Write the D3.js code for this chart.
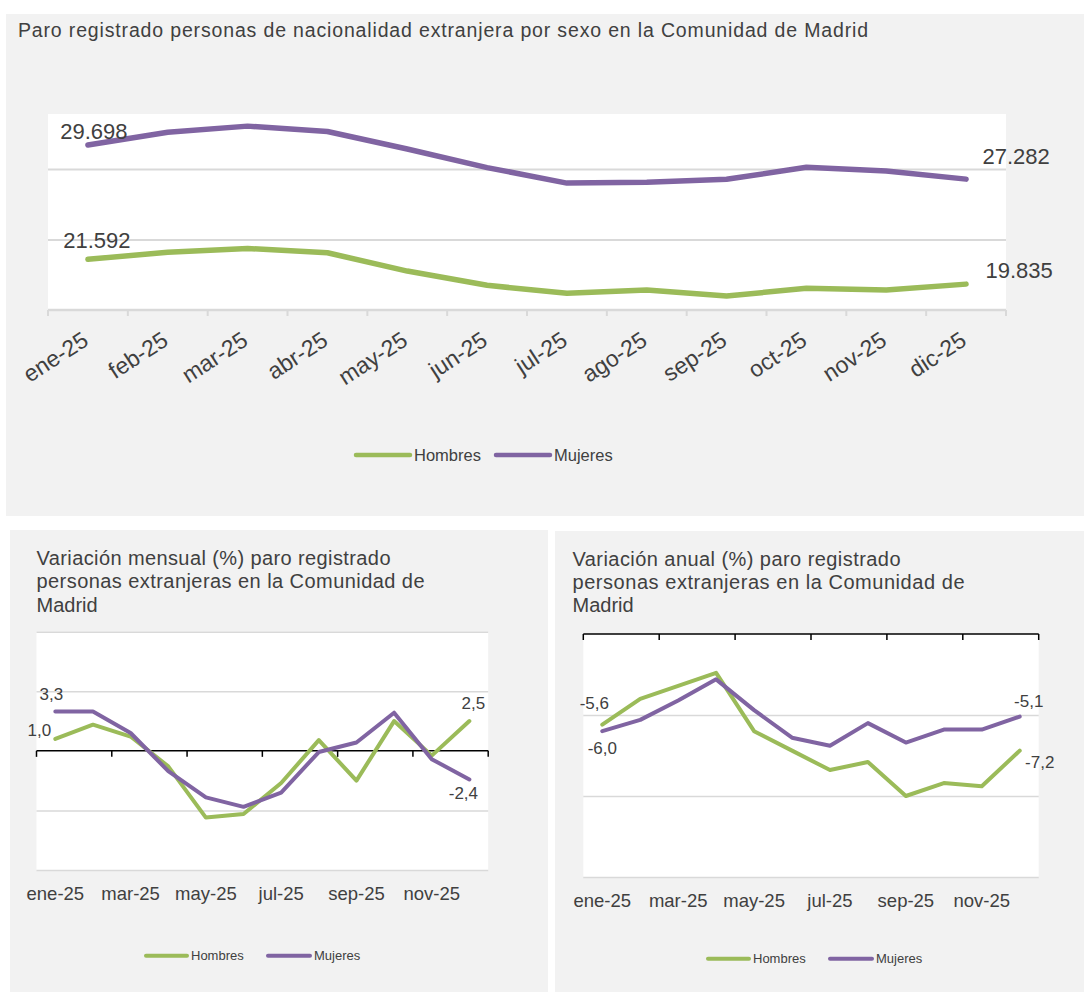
<!doctype html>
<html lang="es">
<head>
<meta charset="utf-8">
<title>Paro registrado extranjeros - Comunidad de Madrid</title>
<script src="https://d3js.org/d3.v7.min.js"></script>
<style>
  body { margin: 0; background: #fff; }
  svg { display: block; font-family: "Liberation Sans", Arial, sans-serif; }
</style>
</head>
<body>
<svg id="chart" width="1084" height="992"></svg>
<script>
// datos
const meses = ["ene-25", "feb-25", "mar-25", "abr-25", "may-25", "jun-25",
               "jul-25", "ago-25", "sep-25", "oct-25", "nov-25", "dic-25"];
const paroHombres = [21592, 22100, 22360, 22060, 20760, 19750, 19180, 19420, 18990, 19540, 19420, 19835];
const paroMujeres = [29698, 30600, 31040, 30660, 29420, 28100, 27000, 27060, 27270, 28120, 27860, 27282];
const mensualHombres = [1.0, 2.2, 1.2, -1.3, -5.6, -5.3, -2.7, 0.9, -2.5, 2.5, -0.4, 2.5];
const mensualMujeres = [3.3, 3.3, 1.5, -1.7, -3.9, -4.7, -3.5, -0.1, 0.7, 3.2, -0.7, -2.4];
const anualHombres = [-5.6, -4.0, -3.2, -2.4, -6.0, -7.2, -8.4, -7.9, -10.0, -9.2, -9.4, -7.2];
const anualMujeres = [-6.0, -5.3, -4.1, -2.8, -4.7, -6.4, -6.9, -5.5, -6.7, -5.9, -5.9, -5.1];
const series = ["Hombres", "Mujeres"];

const verde = "#9bbb59", morado = "#8064a2", gris = "#404040", rejilla = "#d9d9d9";
const es = d3.formatLocale({decimal: ",", thousands: ".", grouping: [3], currency: ["", " €"], minus: "-"});
const fmtMiles = es.format(",.0f"), fmtDec = es.format(".1f");

const svg = d3.select("#chart");

// fondos de los tres paneles
svg.append("rect").attr("x", 6).attr("y", 14).attr("width", 1078).attr("height", 502).attr("fill", "#f2f2f2");
svg.append("rect").attr("x", 10).attr("y", 530).attr("width", 538).attr("height", 462).attr("fill", "#f2f2f2");
svg.append("rect").attr("x", 555).attr("y", 531).attr("width", 529).attr("height", 461).attr("fill", "#f2f2f2");

function leyenda(g, items, y, fs, sw) {
  items.forEach(it => {
    g.append("line").attr("x1", it.x1).attr("x2", it.x2).attr("y1", y).attr("y2", y)
      .attr("stroke", it.color).attr("stroke-width", sw).attr("stroke-linecap", "round");
    g.append("text").attr("x", it.x2 + 4).attr("y", y + fs * 0.36).attr("font-size", fs)
      .attr("fill", gris).text(it.name);
  });
}

// ---------- grafico superior: paro registrado ----------
(function () {
  const g = svg.append("g");
  const left = 48, right = 1006, top = 114, bottom = 310;
  const x = d3.scaleBand().domain(meses).range([left, right]);
  const y = d3.scaleLinear().domain([18000, 31900]).range([bottom, top]);
  const cx = i => x(meses[i]) + x.bandwidth() / 2;

  g.append("text").attr("x", 18).attr("y", 37).attr("font-size", 19.5).attr("fill", gris)
    .attr("textLength", 850).attr("lengthAdjust", "spacing")
    .text("Paro registrado personas de nacionalidad extranjera por sexo en la Comunidad de Madrid");

  g.append("rect").attr("x", left).attr("y", top).attr("width", right - left).attr("height", bottom - top).attr("fill", "#fff");

  g.append("g").attr("transform", `translate(${left},0)`)
    .call(d3.axisLeft(y).tickValues([23000, 28000]).tickSize(-(right - left)).tickFormat(""))
    .call(a => a.select(".domain").remove())
    .call(a => a.selectAll("line").attr("stroke", rejilla).attr("stroke-width", 2));

  g.append("line").attr("x1", left).attr("x2", right).attr("y1", bottom).attr("y2", bottom)
    .attr("stroke", rejilla).attr("stroke-width", 2.5);
  g.selectAll(".tk").data(d3.range(meses.length + 1)).enter().append("line")
    .attr("x1", i => left + i * x.step()).attr("x2", i => left + i * x.step())
    .attr("y1", bottom).attr("y2", bottom + 6).attr("stroke", rejilla).attr("stroke-width", 2);

  const ax = g.append("g").attr("transform", `translate(0,${bottom})`)
    .call(d3.axisBottom(x).tickSize(0).tickSizeOuter(0));
  ax.select(".domain").remove();
  ax.attr("font-family", null).attr("font-size", null);
  ax.selectAll("text").attr("font-size", 23).attr("fill", gris).attr("text-anchor", "end")
    .attr("y", 0).attr("dy", 0).attr("transform", "translate(2,34) rotate(-33)");

  const linea = d3.line().x((d, i) => cx(i)).y(d => y(d));
  [[paroHombres, verde], [paroMujeres, morado]].forEach(([s, c]) => {
    g.append("path").attr("d", linea(s)).attr("fill", "none").attr("stroke", c)
      .attr("stroke-width", 5.5).attr("stroke-linejoin", "round").attr("stroke-linecap", "round");
  });

  const n = meses.length - 1;
  const etiquetas = [
    {s: paroMujeres, i: 0, dx: 6, dy: -6},
    {s: paroHombres, i: 0, dx: 9, dy: -11},
    {s: paroMujeres, i: n, dx: 50, dy: -15},
    {s: paroHombres, i: n, dx: 53, dy: -6}
  ];
  etiquetas.forEach(e => {
    g.append("text").attr("x", cx(e.i) + e.dx).attr("y", y(e.s[e.i]) + e.dy)
      .attr("text-anchor", "middle").attr("font-size", 22).attr("fill", gris).text(fmtMiles(e.s[e.i]));
  });

  leyenda(g, [{name: series[0], color: verde, x1: 356, x2: 410},
              {name: series[1], color: morado, x1: 496, x2: 550}], 455, 16.5, 4.5);
})();

// ---------- graficos inferiores ----------
function graficoVariacion(o) {
  const g = svg.append("g");
  const x = d3.scaleBand().domain(meses).range([o.left, o.right]);
  const y = d3.scaleLinear().domain(o.domain).range([o.bottom, o.top]);
  const cx = i => x(meses[i]) + x.bandwidth() / 2;

  o.titulo.forEach((t, k) => {
    const tx = g.append("text").attr("x", o.left + o.titleDx).attr("y", o.titleY[k])
      .attr("font-size", 20).attr("fill", gris).text(t);
    if (o.titleLen[k]) tx.attr("textLength", o.titleLen[k]).attr("lengthAdjust", "spacing");
  });

  g.append("rect").attr("x", o.left).attr("y", o.top).attr("width", o.right - o.left)
    .attr("height", o.bottom - o.top).attr("fill", "#fff");

  g.append("g").attr("transform", `translate(${o.left},0)`)
    .call(d3.axisLeft(y).tickValues(o.grid).tickSize(-(o.right - o.left)).tickFormat(""))
    .call(a => a.select(".domain").remove())
    .call(a => a.selectAll("line").attr("stroke", rejilla).attr("stroke-width", 1.5));

  // eje en el cero con marcas cada dos meses
  const y0 = y(0);
  g.append("line").attr("x1", o.left).attr("x2", o.right).attr("y1", y0).attr("y2", y0)
    .attr("stroke", "#000").attr("stroke-width", 1.5);
  g.selectAll(".tk").data(d3.range(0, meses.length + 1, 2)).enter().append("line")
    .attr("x1", i => o.left + i * x.step()).attr("x2", i => o.left + i * x.step())
    .attr("y1", y0).attr("y2", y0 + 6).attr("stroke", "#000").attr("stroke-width", 1.5);

  const ax = g.append("g").attr("transform", `translate(0,${o.labelY})`)
    .call(d3.axisBottom(x).tickValues(meses.filter((d, i) => i % 2 === 0)).tickSize(0).tickSizeOuter(0));
  ax.select(".domain").remove();
  ax.attr("font-family", null).attr("font-size", null);
  ax.selectAll("text").attr("font-size", 18.5).attr("fill", gris).attr("y", 0).attr("dy", 0);

  const linea = d3.line().x((d, i) => cx(i)).y(d => y(d));
  [[o.hombres, verde], [o.mujeres, morado]].forEach(([s, c]) => {
    g.append("path").attr("d", linea(s)).attr("fill", "none").attr("stroke", c)
      .attr("stroke-width", 4).attr("stroke-linejoin", "round").attr("stroke-linecap", "round");
  });

  o.etiquetas.forEach(e => {
    const s = e.serie === 0 ? o.hombres : o.mujeres;
    g.append("text").attr("x", cx(e.i) + e.dx).attr("y", y(s[e.i]) + e.dy)
      .attr("text-anchor", "middle").attr("font-size", 17).attr("fill", gris).text(fmtDec(s[e.i]));
  });

  leyenda(g, [{name: series[0], color: verde, x1: o.leg[0], x2: o.leg[1]},
              {name: series[1], color: morado, x1: o.leg[2], x2: o.leg[3]}], o.legY, 13, 4);
}

graficoVariacion({
  left: 36.5, right: 488.2, top: 631.7, bottom: 870, domain: [-10, 10], grid: [10, 5, -5, -10],
  titulo: ["Variación mensual (%) paro registrado", "personas extranjeras en la Comunidad de", "Madrid"],
  titleDx: 0, titleY: [565, 588.3, 611.7], titleLen: [354, 388, 0],
  labelY: 900, hombres: mensualHombres, mujeres: mensualMujeres,
  etiquetas: [{serie: 1, i: 0, dx: -4, dy: -12}, {serie: 0, i: 0, dx: -16, dy: -3},
              {serie: 0, i: 11, dx: 4, dy: -12}, {serie: 1, i: 11, dx: -6, dy: 20}],
  leg: [146, 187, 268, 310], legY: 955.7
});

graficoVariacion({
  left: 583.3, right: 1038.7, top: 634, bottom: 877, domain: [-15, 0], grid: [-5, -10, -15],
  titulo: ["Variación anual (%) paro registrado", "personas extranjeras en la Comunidad de", "Madrid"],
  titleDx: -10.8, titleY: [565.7, 589, 612.3], titleLen: [328, 392, 0],
  labelY: 907, hombres: anualHombres, mujeres: anualMujeres,
  etiquetas: [{serie: 0, i: 0, dx: -8, dy: -16}, {serie: 1, i: 0, dx: 0, dy: 23},
              {serie: 1, i: 11, dx: 9, dy: -10}, {serie: 0, i: 11, dx: 20, dy: 17}],
  leg: [708, 749, 830, 872], legY: 958.7
});
</script>
</body>
</html>
